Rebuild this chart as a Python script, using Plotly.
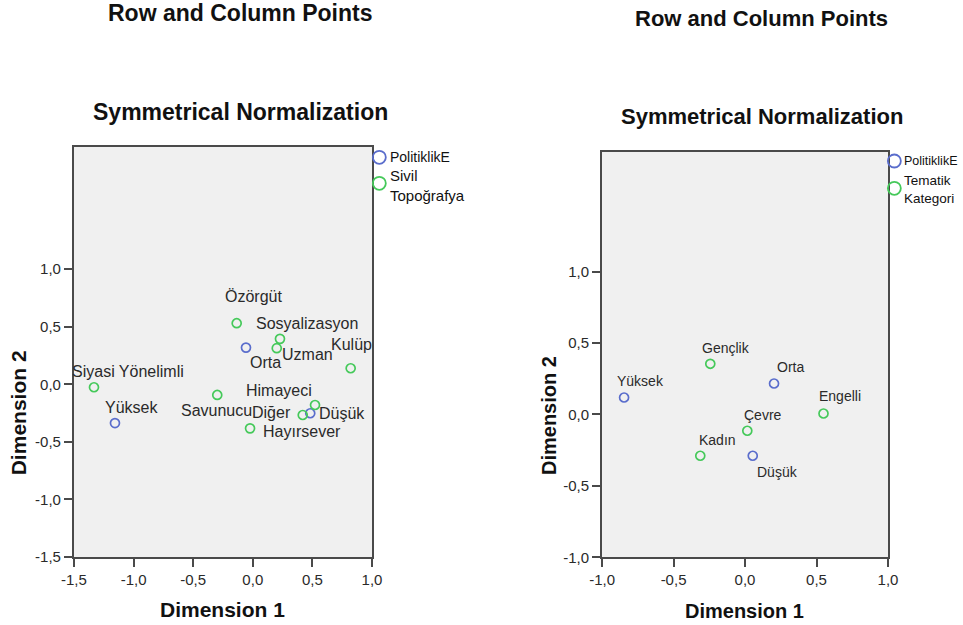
import plotly.graph_objects as go

# ---------------- data ----------------
# Left chart
left_row_names = ["Yüksek", "Orta", "Düşük"]
left_row_x = [-1.156, -0.057, 0.482]
left_row_y = [-0.337, 0.318, -0.252]

left_col_names = ["Siyasi Yönelimli", "Savunucu", "Özörgüt", "Sosyalizasyon", "Uzman",
                  "Kulüp", "Himayeci", "Diğer", "Hayırsever"]
left_col_x = [-1.332, -0.298, -0.135, 0.228, 0.201, 0.821, 0.522, 0.419, -0.023]
left_col_y = [-0.026, -0.093, 0.530, 0.394, 0.313, 0.139, -0.180, -0.267, -0.383]

# Right chart
right_row_names = ["Yüksek", "Orta", "Düşük"]
right_row_x = [-0.846, 0.203, 0.054]
right_row_y = [0.119, 0.217, -0.289]

right_col_names = ["Gençlik", "Engelli", "Çevre", "Kadın"]
right_col_x = [-0.243, 0.549, 0.016, -0.313]
right_col_y = [0.355, 0.007, -0.114, -0.289]

# Series / legend names
row_series = "PolitiklikE"
left_col_series = "Sivil<br>Topoğrafya"
right_col_series = "Tematik<br>Kategori"

# Ticks
left_xticks = [-1.5, -1.0, -0.5, 0.0, 0.5, 1.0]
left_xticktext = ["-1,5", "-1,0", "-0,5", "0,0", "0,5", "1,0"]
left_yticks = [-1.5, -1.0, -0.5, 0.0, 0.5, 1.0]
left_yticktext = ["-1,5", "-1,0", "-0,5", "0,0", "0,5", "1,0"]
right_xticks = [-1.0, -0.5, 0.0, 0.5, 1.0]
right_xticktext = ["-1,0", "-0,5", "0,0", "0,5", "1,0"]
right_yticks = [-1.0, -0.5, 0.0, 0.5, 1.0]
right_yticktext = ["-1,0", "-0,5", "0,0", "0,5", "1,0"]

title1 = "Row and Column Points"
title2 = "Symmetrical Normalization"
xtitle = "Dimension 1"
ytitle = "Dimension 2"

# ---------------- styles ----------------
BLUE = "#5a6dcc"
GREEN = "#45c95a"
FRAME = "#4a4a4a"
TXT = "#2a2a2a"
FONT = "Liberation Sans, Arial, sans-serif"

# label pixel offsets (dx right, dy up)
left_label_off = {
    "Siyasi Yönelimli": (34, 16), "Yüksek": (17, 16), "Savunucu": (-1, -16),
    "Orta": (20, -15), "Uzman": (31, -6), "Sosyalizasyon": (27, 15),
    "Özörgüt": (17, 27), "Kulüp": (1, 24), "Himayeci": (-36, 14),
    "Diğer": (-31, 3), "Düşük": (32, 0), "Hayırsever": (52, -3),
}
right_label_off = {
    "Yüksek": (16, 16), "Gençlik": (16, 16), "Orta": (16, 16), "Engelli": (16, 17),
    "Çevre": (16, 16), "Kadın": (17, 16), "Düşük": (25, -16),
}

fig = go.Figure()

def add_points(xs, ys, names, color, xa, ya):
    fig.add_trace(go.Scatter(
        x=xs, y=ys, mode="markers", text=names, xaxis=xa, yaxis=ya,
        marker=dict(symbol="circle-open", size=9, color=color, line=dict(width=1.7, color=color)),
        showlegend=False, hoverinfo="text+x+y"))

add_points(left_row_x, left_row_y, left_row_names, BLUE, "x", "y")
add_points(left_col_x, left_col_y, left_col_names, GREEN, "x", "y")
add_points(right_row_x, right_row_y, right_row_names, BLUE, "x2", "y2")
add_points(right_col_x, right_col_y, right_col_names, GREEN, "x2", "y2")

annotations = []

def add_labels(xs, ys, names, offs, xr, yr, size):
    for xv, yv, n in zip(xs, ys, names):
        dx, dy = offs[n]
        annotations.append(dict(x=xv, y=yv, xref=xr, yref=yr, text=n, showarrow=False,
                                xshift=dx, yshift=dy, xanchor="center", yanchor="middle",
                                font=dict(family=FONT, size=size, color=TXT)))

add_labels(left_row_x, left_row_y, left_row_names, left_label_off, "x", "y", 16)
add_labels(left_col_x, left_col_y, left_col_names, left_label_off, "x", "y", 16)
add_labels(right_row_x, right_row_y, right_row_names, right_label_off, "x2", "y2", 14)
add_labels(right_col_x, right_col_y, right_col_names, right_label_off, "x2", "y2", 14)

def paper_text(text, x, y, size, bold=False, angle=0, xanchor="center"):
    annotations.append(dict(x=x, y=y, xref="paper", yref="paper", showarrow=False,
                            text=f"<b>{text}</b>" if bold else text, textangle=angle,
                            xanchor=xanchor, yanchor="middle",
                            font=dict(family=FONT, size=size, color="#111111")))

# titles
paper_text(title1, 0.250, 0.9787, 23, bold=True)
paper_text(title2, 0.250, 0.8216, 23, bold=True)
paper_text(title1, 0.791, 0.9707, 22, bold=True)
paper_text(title2, 0.791, 0.8141, 22, bold=True)
# axis titles
paper_text(xtitle, 0.2311, 0.0253, 21, bold=True)
paper_text(ytitle, 0.0190, 0.3392, 21, bold=True, angle=-90)
paper_text(xtitle, 0.7736, 0.0227, 20, bold=True)
paper_text(ytitle, 0.5701, 0.3344, 20, bold=True, angle=-90)

# legends
shapes = []
def legend_marker(x, y, color):
    shapes.append(dict(type="circle", xref="paper", yref="paper", xsizemode="pixel",
                       ysizemode="pixel", xanchor=x, yanchor=y, x0=-6.5, x1=6.5, y0=-6.5, y1=6.5,
                       line=dict(color=color, width=1.8)))

def legend_text(text, x, y, size):
    annotations.append(dict(x=x, y=y, xref="paper", yref="paper", showarrow=False, text=text,
                            xanchor="left", yanchor="middle", align="left",
                            font=dict(family=FONT, size=size, color="#111111")))

legend_marker(0.3939, 0.7483, BLUE)
legend_marker(0.3939, 0.7067, GREEN)
legend_text(row_series, 0.4030, 0.7483, 14)
legend_text(left_col_series, 0.4030, 0.7027, 15)

legend_marker(0.9287, 0.7424, BLUE)
legend_marker(0.9287, 0.6987, GREEN)
legend_text(row_series, 0.9370, 0.7424, 12.5)
legend_text(right_col_series, 0.9370, 0.6971, 13.5)

axis_common = dict(showgrid=False, zeroline=False, showline=True, mirror=True, automargin=False,
                   linecolor=FRAME, linewidth=2, ticks="outside", ticklen=8, tickwidth=2,
                   tickcolor=FRAME, tickfont=dict(family=FONT, size=15, color=TXT))

fig.update_layout(
    template="none",
    width=963, height=625,
    margin=dict(l=0, r=0, t=0, b=0, pad=0, autoexpand=False),
    paper_bgcolor="white",
    plot_bgcolor="#f0f0f0",
    showlegend=False,
    xaxis=dict(domain=[0.0768, 0.3863], range=[-1.5, 1.0], tickvals=left_xticks,
               ticktext=left_xticktext, anchor="y", **axis_common),
    yaxis=dict(domain=[0.1088, 0.7648], range=[-1.5, 2.06], tickvals=left_yticks,
               ticktext=left_yticktext, anchor="x", **axis_common),
    xaxis2=dict(domain=[0.6252, 0.9221], range=[-1.0, 1.0], tickvals=right_xticks,
                ticktext=right_xticktext, anchor="y2", **axis_common),
    yaxis2=dict(domain=[0.1083, 0.7573], range=[-1.0, 1.84], tickvals=right_yticks,
                ticktext=right_yticktext, anchor="x2", **axis_common),
    annotations=annotations,
    shapes=shapes,
)

fig.write_html("out.html",
               config={"displayModeBar": False},
               post_script="document.body.style.margin='0';document.body.style.padding='0';")
